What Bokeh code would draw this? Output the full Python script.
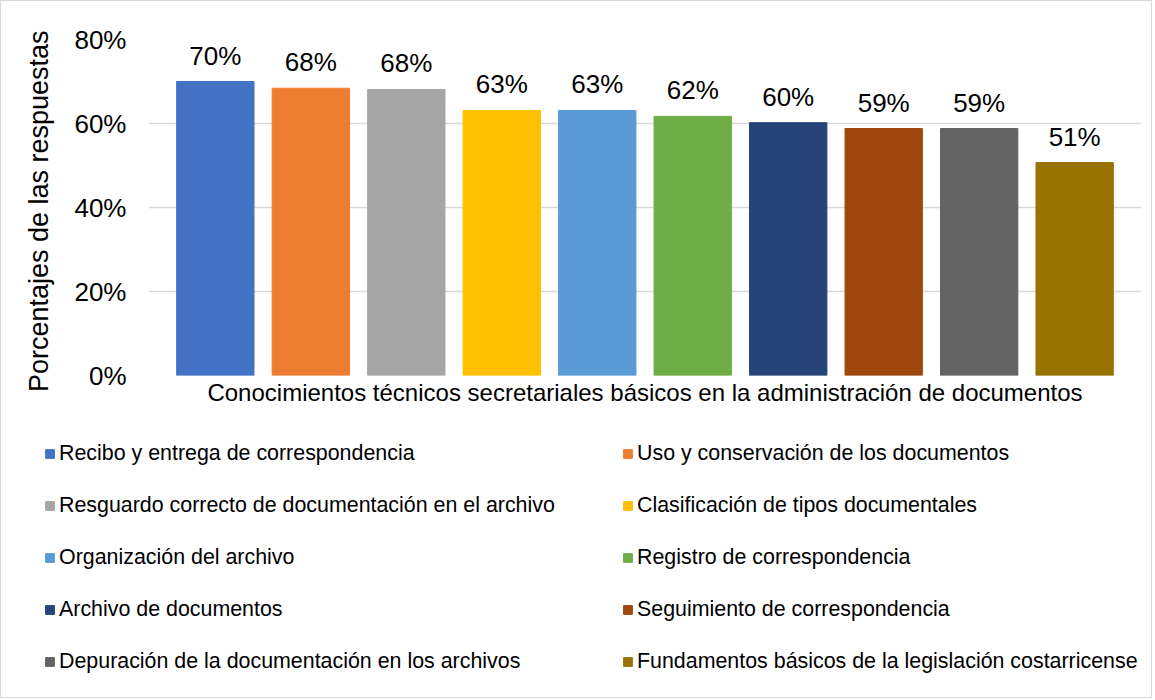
from bokeh.plotting import figure
from bokeh.layouts import column
from bokeh.models import ColumnDataSource, Range1d, Legend, LegendItem, FixedTicker
from bokeh.core.properties import value
from bokeh.embed import file_html
from bokeh.resources import INLINE

categories = [
    "Recibo y entrega de correspondencia",
    "Uso y conservación de los documentos",
    "Resguardo correcto de documentación en el archivo",
    "Clasificación de tipos documentales",
    "Organización del archivo",
    "Registro de correspondencia",
    "Archivo de documentos",
    "Seguimiento de correspondencia",
    "Depuración de la documentación en los archivos",
    "Fundamentos básicos de la legislación costarricense",
]
values = [70.0, 68.4, 68.1, 63.1, 63.1, 61.7, 60.2, 58.8, 58.8, 50.7]
colors = ["#4472C4", "#ED7D31", "#A5A5A5", "#FFC000", "#5B9BD5",
          "#70AD47", "#264478", "#9E480E", "#636363", "#997300"]
y_ticks = [0, 20, 40, 60, 80]
y_tick_labels = ["0%", "20%", "40%", "60%", "80%"]
x_label = "Conocimientos técnicos secretariales básicos en la administración de documentos"
y_label = "Porcentajes de las  respuestas"

FONT = "Liberation Sans"
positions = list(range(1, len(values) + 1))
labels = [f"{round(v)}%" for v in values]

src = ColumnDataSource(dict(x=positions, top=values, color=colors,
                            label=labels, name=categories))

W = 1150
p = figure(width=W, height=410,
           x_range=Range1d(0.3, 10.7), y_range=Range1d(0, 80),
           output_backend="svg", toolbar_location=None,
           min_border_left=147, min_border_right=10,
           min_border_top=38, min_border_bottom=36)
p.frame_align = False
p.outline_line_color = None
p.background_fill_color = "white"
p.border_fill_color = "white"

bars = p.vbar(x="x", top="top", width=0.81, color="color", source=src)

p.text(x="x", y="top", text="label", source=src, text_align="center",
       text_baseline="alphabetic", y_offset=-26,
       text_font=value(FONT), text_font_size="26px", text_color="black")

# grid
p.xgrid.visible = False
p.ygrid.ticker = FixedTicker(ticks=y_ticks)
p.ygrid.grid_line_color = "#d9d9d9"
p.ygrid.grid_line_width = 1.5

# y axis
p.yaxis.ticker = FixedTicker(ticks=y_ticks)
p.yaxis.major_label_overrides = dict(zip(y_ticks, y_tick_labels))
p.yaxis.axis_line_color = None
p.yaxis.major_tick_line_color = None
p.yaxis.minor_tick_line_color = None
p.yaxis.major_tick_out = 0
p.yaxis.major_label_standoff = 22
p.yaxis.major_label_text_font = FONT
p.yaxis.major_label_text_font_size = "26px"
p.yaxis.major_label_text_color = "black"
p.yaxis.axis_label = y_label
p.yaxis.axis_label_text_font = FONT
p.yaxis.axis_label_text_font_size = "27px"
p.yaxis.axis_label_text_font_style = "normal"
p.yaxis.axis_label_text_color = "black"
p.yaxis.axis_label_standoff = 17

# x axis
center = (positions[0] + positions[-1]) / 2
p.xaxis.ticker = FixedTicker(ticks=[center])
p.xaxis.major_label_overrides = {center: x_label}
p.xaxis.axis_line_color = None
p.xaxis.major_tick_line_color = None
p.xaxis.minor_tick_line_color = None
p.xaxis.major_tick_out = 0
p.xaxis.major_label_standoff = 3
p.xaxis.major_label_text_font = FONT
p.xaxis.major_label_text_font_size = "24px"
p.xaxis.major_label_text_color = "black"

# legend panel (full-frame figure holding the legends)
lp = figure(width=W, height=286, x_range=Range1d(-100, -99), y_range=Range1d(0, 1),
            x_axis_type=None, y_axis_type=None,
            output_backend="svg", toolbar_location=None,
            min_border_left=0, min_border_right=0, min_border_top=0, min_border_bottom=0)
lp.frame_align = False
lp.outline_line_color = None
lp.xgrid.visible = False
lp.ygrid.visible = False
lp.background_fill_color = "white"
lp.border_fill_color = "white"
swatches = lp.vbar(x="x", top="top", width=0.81, color="color", source=src)


def make_legend(idx, loc):
    return Legend(items=[LegendItem(label=categories[i], renderers=[swatches], index=i) for i in idx],
                  location=loc, orientation="vertical",
                  padding=0, margin=0, spacing=22,
                  glyph_width=11, glyph_height=11, label_standoff=4,
                  label_height=30,
                  label_text_font=FONT, label_text_font_size="21.4px",
                  label_text_color="black",
                  border_line_color=None, background_fill_alpha=0)


lp.add_layout(make_legend(range(0, 10, 2), (43, 21)), "center")
lp.add_layout(make_legend(range(1, 10, 2), (621, 21)), "center")

layout = column(p, lp, spacing=0, styles={"border": "1px solid #d9d9d9"})

open("out.html", "w").write(file_html(layout, INLINE))
